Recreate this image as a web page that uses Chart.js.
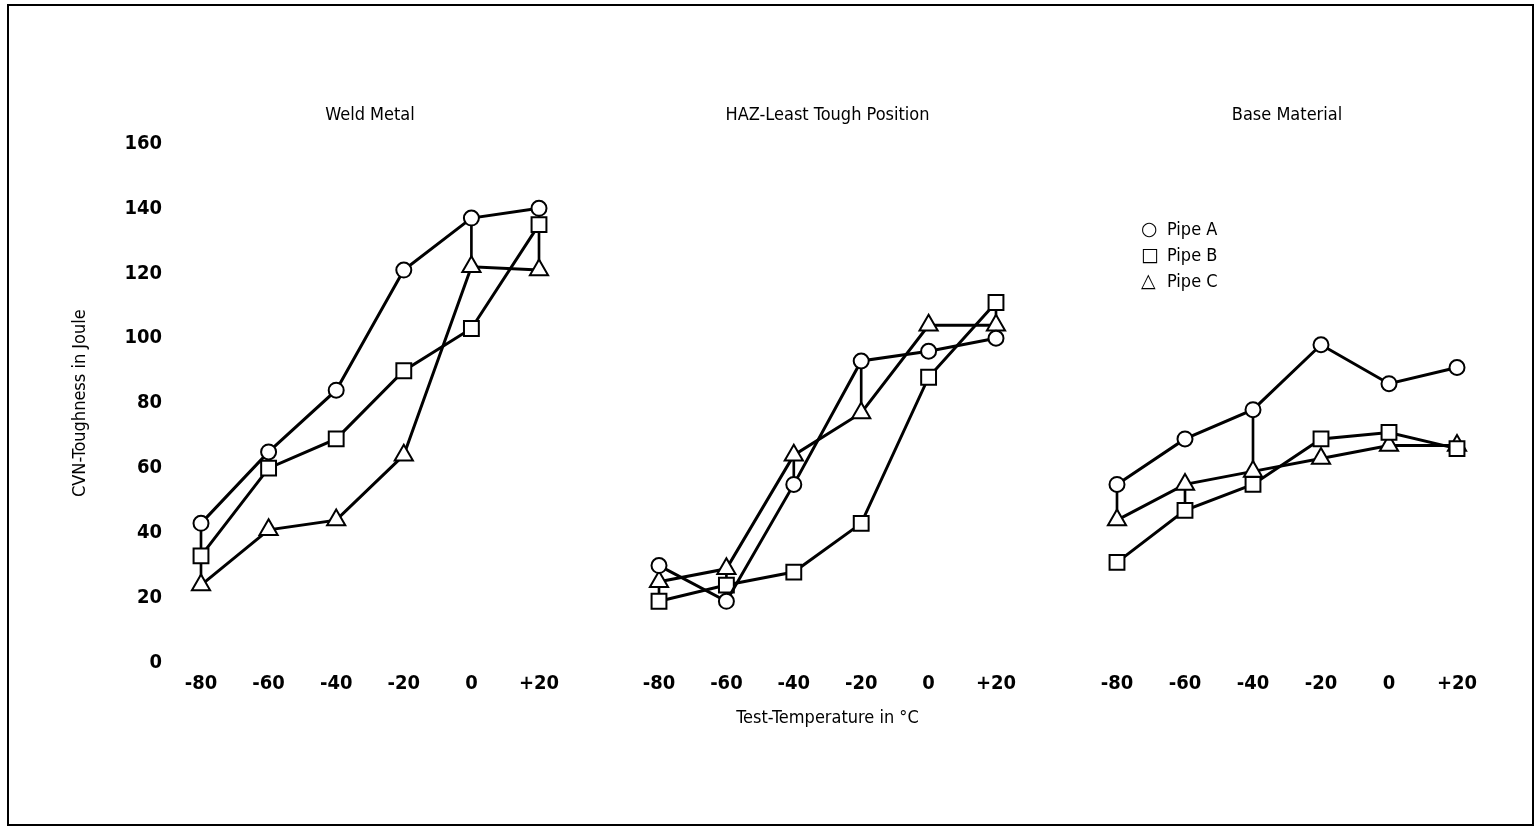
<!DOCTYPE html>
<html>
<head>
<meta charset="utf-8">
<title>CVN-Toughness vs Test-Temperature</title>
<script src="https://cdn.jsdelivr.net/npm/chart.js@4.4.1/dist/chart.umd.min.js"></script>
<style>
  html, body { margin: 0; padding: 0; background: #fff; }
  body { width: 1537px; height: 828px; position: relative; overflow: hidden; }
  #frame { position: absolute; left: 7px; top: 4px; width: 1523px; height: 818px; border: 2px solid #000; }
  canvas { position: absolute; }
  #legend { position: absolute; left: 1141px; top: 215px; font-family: 'Liberation Sans Narrow', 'DejaVu Sans Condensed', sans-serif; font-size: 18px; color: #000; }
  #legend div { height: 26px; line-height: 26px; white-space: nowrap; }
  #legend span.mk { display: inline-block; width: 26px; font-family: 'DejaVu Sans', sans-serif; font-size: 19px; font-weight: bold; }
</style>
</head>
<body>
<div id="frame"></div>
<canvas id="weld" width="640" height="653" style="left:51px;top:90px"></canvas>
<canvas id="haz" width="470" height="653" style="left:599px;top:90px"></canvas>
<canvas id="base" width="466" height="653" style="left:1057px;top:90px"></canvas>
<div id="legend"></div>
<script>
// Test temperatures (°C)
const temperatures = ['-80', '-60', '-40', '-20', '0', '+20'];
const pipeNames = ['Pipe A', 'Pipe B', 'Pipe C'];
const yTicks = [0, 20, 40, 60, 80, 100, 120, 140, 160];

// Weld metal, CVN toughness in J
const weldPipeA = [43, 65, 84, 121, 137, 140];
const weldPipeB = [33, 60, 69, 90, 103, 135];
const weldPipeC = [24, 41, 44, 64, 122, 121];
const weldSpread = [[24, 43], null, null, null, [122, 137], [121, 140]];

// HAZ, least tough position
const hazPipeA = [30, 19, 55, 93, 96, 100];
const hazPipeB = [19, 24, 28, 43, 88, 111];
const hazPipeC = [25, 29, 64, 77, 104, 104];
const hazSpread = [[19, 30], [19, 29], [55, 64], [77, 93], null, [100, 111]];

// Base material
const basePipeA = [55, 69, 78, 98, 86, 91];
const basePipeB = [31, 47, 55, 69, 71, 66];
const basePipeC = [44, 55, 59, 63, 67, 67];
const baseSpread = [[44, 55], [47, 55], [55, 78], null, null, null];

const FONT = "'Liberation Sans Narrow', 'DejaVu Sans Condensed', sans-serif";
const markerStyles = [
  { pointStyle: 'circle', pointRadius: 7.5 },
  { pointStyle: 'rect', pointRadius: 10.5 },
  { pointStyle: 'triangle', pointRadius: 10.5 }
];

function pipeDataset(idx, values) {
  const m = markerStyles[idx];
  return {
    type: 'line',
    label: pipeNames[idx],
    data: values,
    borderColor: '#000',
    borderWidth: 3,
    tension: 0,
    pointStyle: m.pointStyle,
    pointRadius: m.pointRadius,
    pointBackgroundColor: '#fff',
    pointBorderColor: '#000',
    pointBorderWidth: 2,
    clip: false,
    order: idx + 1
  };
}

function spreadDataset(values) {
  return {
    type: 'bar',
    label: 'spread',
    data: values,
    backgroundColor: '#000',
    borderWidth: 0,
    barThickness: 2,
    clip: false,
    order: 10
  };
}

function makePanel(canvasId, title, series, spread, opts) {
  const datasets = [spreadDataset(spread)].concat(series.map((v, i) => pipeDataset(i, v)));
  return new Chart(document.getElementById(canvasId), {
    data: { labels: temperatures, datasets: datasets },
    options: {
      responsive: false,
      animation: false,
      events: [],
      layout: { padding: opts.padding },
      plugins: {
        legend: { display: false },
        tooltip: { enabled: false },
        title: {
          display: true,
          fullSize: false,
          text: title,
          color: '#000',
          font: { family: FONT, size: 18, weight: 'normal' },
          padding: { top: 14.2, bottom: 17.6 }
        }
      },
      scales: {
        x: {
          type: 'category',
          offset: false,
          grid: { display: false, drawTicks: false },
          border: { display: false },
          ticks: { color: '#000', padding: 9, font: { family: FONT, size: 20, weight: 'bold' } },
          title: {
            display: !!opts.xTitle,
            text: opts.xTitle || '',
            color: '#000',
            font: { family: FONT, size: 18, weight: 'normal' },
            padding: { top: 0, bottom: 14.2 }
          },
          afterFit: s => { s.height = 80; }
        },
        y: {
          display: opts.showY,
          min: 0,
          max: 160,
          afterBuildTicks: s => { s.ticks = yTicks.map(v => ({ value: v })); },
          grid: { display: false, drawTicks: false },
          border: { display: false },
          ticks: { color: '#000', padding: 39, font: { family: FONT, size: 20, weight: 'bold' } },
          title: {
            display: !!opts.yTitle,
            text: opts.yTitle || '',
            color: '#000',
            font: { family: FONT, size: 18, weight: 'normal' },
            padding: { top: 18.2, bottom: 0 }
          },
          afterFit: s => { if (opts.showY) s.width = 150; }
        }
      }
    }
  });
}

makePanel('weld', 'Weld Metal', [weldPipeA, weldPipeB, weldPipeC], weldSpread,
  { padding: { left: 0, right: 152, top: 0, bottom: 0 }, showY: true, yTitle: 'CVN-Toughness in Joule' });
makePanel('haz', 'HAZ-Least Tough Position', [hazPipeA, hazPipeB, hazPipeC], hazSpread,
  { padding: { left: 60, right: 73, top: 0, bottom: 0 }, showY: false, xTitle: 'Test-Temperature in °C' });
makePanel('base', 'Base Material', [basePipeA, basePipeB, basePipeC], baseSpread,
  { padding: { left: 60, right: 66, top: 0, bottom: 0 }, showY: false });

// Key for the three pipes
const glyphs = { circle: '○', rect: '□', triangle: '△' };
const legendEl = document.getElementById('legend');
pipeNames.forEach((name, i) => {
  const row = document.createElement('div');
  const mk = document.createElement('span');
  mk.className = 'mk';
  mk.textContent = glyphs[markerStyles[i].pointStyle];
  row.appendChild(mk);
  row.appendChild(document.createTextNode(name));
  legendEl.appendChild(row);
});
</script>
</body>
</html>
